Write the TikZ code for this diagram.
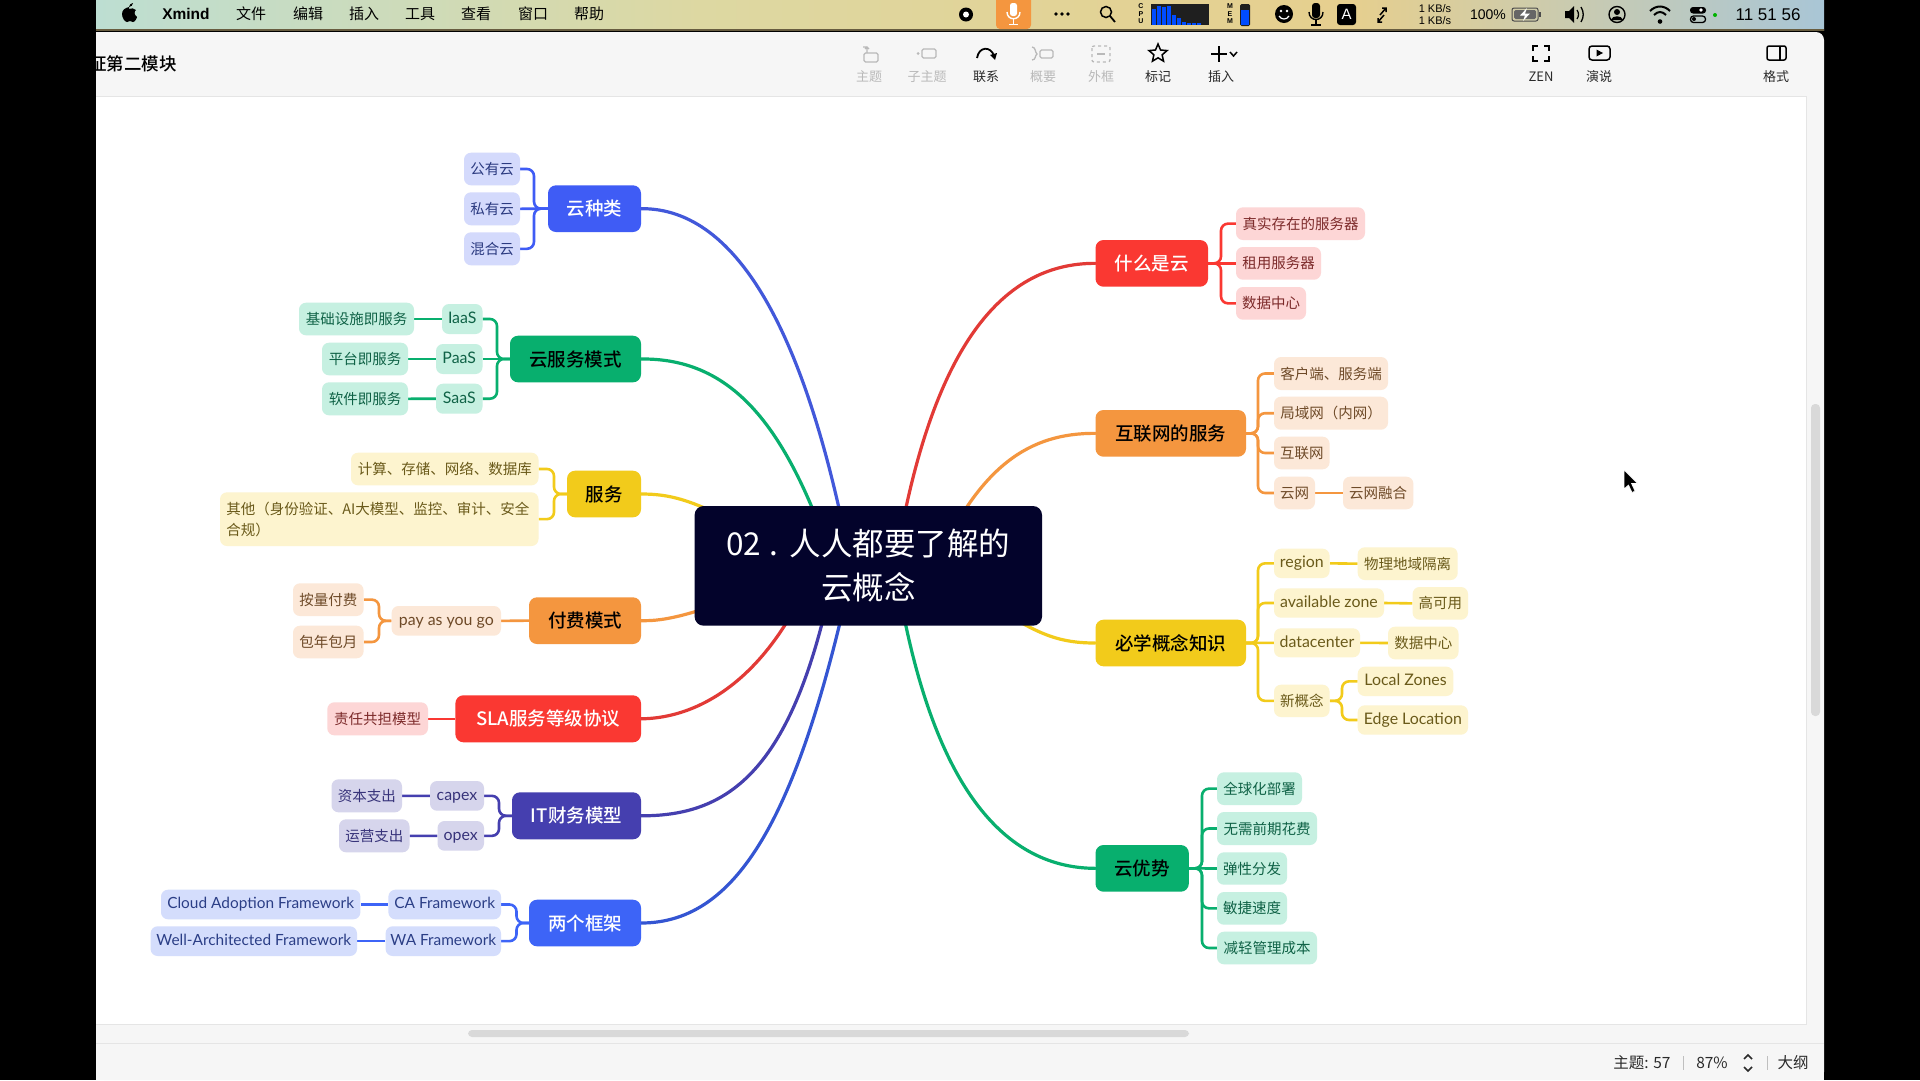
\documentclass[tikz,border=0pt]{standalone}
\usepackage{fontspec}
\setmainfont{Noto Sans CJK SC}
\newfontfamily\lat{Lato}
\newfontfamily\ui{Liberation Sans}
\newfontfamily\cnmed{Noto Sans CJK SC Medium}
\usetikzlibrary{shapes.geometric,calc}
\pgfdeclarelayer{pagebg}\pgfdeclarelayer{conn}
\pgfsetlayers{pagebg,conn,main}
\definecolor{cblue}{HTML}{3F5CF5}\definecolor{lblue}{HTML}{D4DAFC}\definecolor{tblue}{HTML}{2B3A80}
\definecolor{cgreen}{HTML}{08AF6E}\definecolor{lgreen}{HTML}{C6F0E1}\definecolor{tgreen}{HTML}{0F6246}
\definecolor{cyellow}{HTML}{F2CB1B}\definecolor{lyellow}{HTML}{FDF4CF}\definecolor{tyellow}{HTML}{6A5A1A}
\definecolor{corange}{HTML}{F4963F}\definecolor{lorange}{HTML}{FCE8D8}\definecolor{torange}{HTML}{6E4A28}
\definecolor{cred}{HTML}{FA3832}\definecolor{lred}{HTML}{FDD6D6}\definecolor{tred}{HTML}{7C2A2A}
\definecolor{cindigo}{HTML}{453FAF}\definecolor{lindigo}{HTML}{D6D5EC}\definecolor{tindigo}{HTML}{37337A}
\definecolor{cbluetwo}{HTML}{3D64F7}\definecolor{lbluetwo}{HTML}{D4DDFC}\definecolor{tbluetwo}{HTML}{2B3E86}
\definecolor{credline}{HTML}{E23A36}\definecolor{cblueline}{HTML}{4258DA}
\definecolor{rootc}{HTML}{03032B}\definecolor{chrome}{HTML}{F6F6F6}\definecolor{barg}{HTML}{D9D9D9}
\definecolor{icongray}{HTML}{B9B9B9}\definecolor{uitext}{HTML}{2A2A2A}
\definecolor{mbA}{HTML}{BDDED2}\definecolor{mbB}{HTML}{DDD8A2}\definecolor{mbC}{HTML}{E6CF8E}\definecolor{mbD}{HTML}{A9C6D6}
\tikzset{
 x=1pt,y=-1pt,
 box/.style={rounded corners=7pt,inner sep=0pt,align=center},
 lf/.style={box,font=\fontsize{14.5}{20}\selectfont},
 brn/.style={box,rounded corners=8pt},
 brw/.style={brn,text=white,font=\cnmed\fontsize{18.5}{22}\selectfont},
 brk/.style={brn,text=black,font=\cnmed\fontsize{18.5}{22}\selectfont},
 lfblue/.style={lf,fill=lblue,text=tblue},
 lfgreen/.style={lf,fill=lgreen,text=tgreen},
 lfyellow/.style={lf,fill=lyellow,text=tyellow},
 lforange/.style={lf,fill=lorange,text=torange},
 lfred/.style={lf,fill=lred,text=tred},
 lfindigo/.style={lf,fill=lindigo,text=tindigo},
 lfbluetwo/.style={lf,fill=lbluetwo,text=tbluetwo},
 mainline/.style={line width=3.2pt,line cap=round},
 subline/.style={line width=2.6pt,rounded corners=7pt},
 menu/.style={font=\fontsize{15}{18}\selectfont,text=black,inner sep=0pt},
 tool/.style={font=\fontsize{13}{15}\selectfont,text=uitext,inner sep=0pt},
 toolg/.style={font=\fontsize{13}{15}\selectfont,text=icongray,inner sep=0pt},
 iconk/.style={line width=1.5pt,draw=black},
 icong/.style={line width=1.3pt,draw=icongray},
 stat/.style={font=\fontsize{15.5}{18}\selectfont,text=uitext,inner sep=0pt},
}
\newcommand{\bx}[7]{\pgfmathsetmacro\bw{#4-#2}\pgfmathsetmacro\bh{#5-#3}\pgfmathsetmacro\cx{(#2+#4)/2}\pgfmathsetmacro\cy{(#3+#5)/2}\node[#6,minimum width=\bw pt,minimum height=\bh pt] (#1) at (\cx,\cy) {#7};}
\newcommand{\cbL}[4]{\draw[subline,draw=#4] (#1.west) -- (#3,0 |- #1.west) -- (#3,0 |- #2.east) -- (#2.east);}
\newcommand{\cbR}[4]{\draw[subline,draw=#4] (#1.east) -- (#3,0 |- #1.east) -- (#3,0 |- #2.west) -- (#2.west);}
\newcommand{\stL}[3]{\draw[subline,draw=#3] (#1.west) -- (#2.east);}
\newcommand{\stR}[3]{\draw[subline,draw=#3] (#1.east) -- (#2.west);}
\newcommand{\la}[1]{\raisebox{-2.2pt}{\lat\fontsize{15.9}{18}\selectfont\vphantom{Ag}#1}}
\newcommand{\lb}[1]{\raisebox{-2.2pt}{\lat\fontsize{15.4}{18}\selectfont\vphantom{Ag}#1}}
\newcommand{\rb}[1]{\raisebox{-1pt}{#1}}
\newcommand{\rt}[1]{\raisebox{-1.5pt}{#1}}
\begin{document}
\begin{tikzpicture}
\useasboundingbox (0,0) rectangle (1920,1080);
\begin{pgfonlayer}{pagebg}
\fill[black] (0,0) rectangle (1920,1080);
% menu bar
\shade[left color=mbA,right color=mbB] (96,0) rectangle (700,30);
\shade[left color=mbB,right color=mbC] (700,0) rectangle (1350,30);
\shade[left color=mbC,right color=mbD] (1350,0) rectangle (1824,30);
\fill[black!55!mbC] (96,29) rectangle (1824,30.5);
% window
\fill[chrome,rounded corners=8pt] (96,32) rectangle (1824,1080);
\fill[chrome] (96,32) rectangle (300,60);
\fill[chrome] (96,60) rectangle (1824,1080);
\fill[white] (96,96) rectangle (1806,1024);
\draw[black!10,line width=1pt] (96,96) -- (1806,96) -- (1806,1024) -- (96,1024);
\draw[black!10,line width=1pt] (96,1043) -- (1824,1043);
\fill[barg,rounded corners=4pt] (1811,404) rectangle (1820,716);
\fill[barg,rounded corners=4pt] (468,1030) rectangle (1189,1037);
% menu text
\fill[black] (129,7) .. controls (125,8) and (122,10) .. (122,14) .. controls (122,18) and (125,22) .. (127,22) .. controls (128,22) and (129,21) .. (130,21) .. controls (131,21) and (132,22) .. (133,22) .. controls (135,22) and (137,18) .. (137,17) .. controls (134,15) and (134,11) .. (136,10) .. controls (134,8) and (131,8) .. (129,9) -- cycle;
\fill[black] (129,7) .. controls (129,5) and (131,3) .. (133,3) .. controls (133,5) and (131,7) .. (129,7) -- cycle;
\node[menu,font=\ui\bfseries\fontsize{15.5}{18}\selectfont] (mxmind) at (186,14) {Xmind};
\node[menu] (m1) at (251,14) {文件};
\node[menu] (m2) at (308,14) {编辑};
\node[menu] (m3) at (364,14) {插入};
\node[menu] (m4) at (420,14) {工具};
\node[menu] (m5) at (476,14) {查看};
\node[menu] (m6) at (533,14) {窗口};
\node[menu] (m7) at (589,14) {帮助};
% status icons
\fill[black] (966,14.5) circle (7pt);
\fill[white] (966,14.5) circle (3pt);
\fill[corange,rounded corners=4pt] (996,-4) rectangle (1031,29);
\fill[white,rounded corners=2.5pt] (1010,3) rectangle (1017,16);
\draw[white,line width=1.4pt] (1007,12) .. controls (1007,21) and (1020,21) .. (1020,12);
\draw[white,line width=1.4pt] (1013.5,19) -- (1013.5,24) (1009,24.5) -- (1018,24.5);
\foreach \q in {1056,1062,1068} \fill[black] (\q,14) circle (1.8pt);
\draw[black,line width=1.5pt] (1106,12) circle (5.5pt);
\draw[black,line width=1.8pt] (1110,16) -- (1115,22);
\node[font=\ui\bfseries\fontsize{7}{7.5}\selectfont,align=center,inner sep=0pt,text=black] (cpu) at (1141,14) {C\\P\\U};
\fill[black!88] (1151,4) rectangle (1209,25);
\foreach \a/\h in {1152/16,1157/19,1162/18,1167/19,1172/10,1177/7,1182/3,1187/2,1192/2,1197/2} \fill[blue!70!cyan] (\a,25) rectangle +(4,-\h);
\node[font=\ui\bfseries\fontsize{7}{7.5}\selectfont,align=center,inner sep=0pt,text=black] (mem) at (1230,14) {M\\E\\M};
\fill[black!88,rounded corners=1.5pt] (1240,4) rectangle (1250,26);
\fill[blue!70!cyan] (1241,10) rectangle (1249,25);
\fill[black] (1284,14) circle (9pt);
\fill[white] (1281,11) circle (1.4pt) (1287,11) circle (1.4pt);
\draw[white,line width=1.2pt] (1279,16) .. controls (1281,20) and (1287,20) .. (1289,16);
\fill[black,rounded corners=3pt] (1312,3) rectangle (1320,18);
\draw[black,line width=1.4pt] (1309,12) .. controls (1309,22) and (1323,22) .. (1323,12);
\draw[black,line width=1.4pt] (1316,20) -- (1316,25) (1311,25) -- (1321,25);
\fill[black,rounded corners=3pt] (1337,4) rectangle (1356,25);
\node[font=\ui\fontsize{15}{16}\selectfont,text=white,inner sep=0pt] (akey) at (1346.5,14.5) {A};
\draw[black,line width=1.5pt] (1380,15) -- (1386,8) (1382,8) -- (1386,8) -- (1386,12);
\draw[black,line width=1.5pt] (1378,22) -- (1384,15) (1378,18) -- (1378,22) -- (1382,22);
\node[font=\ui\fontsize{11}{11.5}\selectfont,align=right,inner sep=0pt,text=black] (kbs) at (1435,14.5) {1 KB/s\\1 KB/s};
\node[font=\ui\fontsize{14}{16}\selectfont,inner sep=0pt,text=black] (batp) at (1488,15) {100\%};
\draw[black!70,line width=1pt,rounded corners=2pt] (1512,8) rectangle (1538,21);
\fill[black!60,rounded corners=1.5pt] (1514,10) rectangle (1536,19);
\fill[black!70] (1539,12) rectangle (1541,17);
\fill[white] (1527,8) -- (1520,15.5) -- (1525,15.5) -- (1523,21) -- (1530,13.5) -- (1525,13.5) -- cycle;
\fill[black] (1565,11) -- (1569,11) -- (1574,6) -- (1574,23) -- (1569,18) -- (1565,18) -- cycle;
\draw[black,line width=1.3pt] (1577,10) .. controls (1579,13) and (1579,16) .. (1577,19);
\draw[black,line width=1.3pt] (1581,7) .. controls (1584,12) and (1584,17) .. (1581,22);
\draw[black,line width=1.4pt] (1617,14.5) circle (8pt);
\fill[black] (1617,12) circle (3pt);
\fill[black] (1611,20) .. controls (1612,15) and (1622,15) .. (1623,20) -- cycle;
\draw[black,line width=2pt] (1650,11) .. controls (1656,5) and (1664,5) .. (1670,11);
\draw[black,line width=2pt] (1654,15) .. controls (1658,11) and (1662,11) .. (1666,15);
\fill[black] (1660,21.5) circle (2.3pt);
\fill[black,rounded corners=3pt] (1690,7) rectangle (1706,13.5);
\draw[black,line width=1.3pt,rounded corners=3pt] (1690.5,16) rectangle (1705.5,22.5);
\fill[white] (1701,10) circle (1.8pt);
\fill[black] (1694,19) circle (2pt);
\fill[green!70!black] (1715,15) circle (2pt);
\node[font=\ui\fontsize{17}{18}\selectfont,inner sep=0pt,text=black] (clock) at (1768,14.5) {11 51 56};
% title
\begin{scope}
\clip (96,40) rectangle (400,90);
\node[font=\cnmed\fontsize{17.5}{20}\selectfont,text=black,inner sep=0pt] (ttl) at (133,64) {证第二模块};
\end{scope}
% toolbar labels
\node[toolg] (t1) at (869,77) {主题};
\node[toolg] (t2) at (927,77) {子主题};
\node[tool] (t3) at (986,77) {联系};
\node[toolg] (t4) at (1043,77) {概要};
\node[toolg] (t5) at (1101,77) {外框};
\node[tool] (t6) at (1158,77) {标记};
\node[tool] (t7) at (1221,77) {插入};
\node[tool] (t8) at (1541,77) {ZEN};
\node[tool] (t9) at (1599,77) {演说};
\node[tool] (t10) at (1776,77) {格式};
% toolbar icons
\draw[icong,rounded corners=1.5pt] (864,53) rectangle (878,62);
\draw[icong] (867,47) -- (867,53) (865,49) -- (867,47) -- (869,49) (867,47) -- (863,47);
\draw[icong,rounded corners=1.5pt] (922,49) rectangle (936,58);
\fill[icongray] (918,53.5) circle (1.5pt);
\draw[iconk,line width=1.8pt] (977,58) .. controls (979,46) and (991,46) .. (994,56);
\fill[black] (990,55) -- (997,53) -- (995,60) -- cycle;
\draw[icong] (1032,47) .. controls (1036,47) and (1035,53) .. (1037,54) .. controls (1035,55) and (1036,60) .. (1032,60);
\draw[icong,rounded corners=1.5pt] (1040,50) rectangle (1053,58);
\draw[icong,dashed,rounded corners=2pt] (1092,46) rectangle (1110,62);
\draw[icong] (1097,54) -- (1105,54);
\node[star,star points=5,star point ratio=2.2,draw=black,line width=1.5pt,inner sep=0pt,minimum size=19pt] (starico) at (1158,53.5) {};
\draw[iconk,line width=1.7pt] (1211,54) -- (1227,54) (1219,46) -- (1219,62);
\draw[iconk] (1230,52) -- (1233.5,56) -- (1237,52);
\draw[iconk] (1533,51) -- (1533,46) -- (1538,46) (1544,46) -- (1549,46) -- (1549,51) (1549,56) -- (1549,61) -- (1544,61) (1538,61) -- (1533,61) -- (1533,56);
\draw[iconk,rounded corners=3pt] (1589,46) rectangle (1610,60);
\fill[black] (1596.5,49.5) -- (1603,53) -- (1596.5,56.5) -- cycle;
\draw[iconk,rounded corners=2pt] (1767,46) rectangle (1786,60);
\draw[iconk] (1780,46) -- (1780,60);
% status bar
\node[stat] (s1) at (1642,1063) {主题: 57};
\draw[black!25,line width=1pt] (1683,1056) -- (1683,1070);
\node[stat] (s2) at (1712,1063) {87\%};
\draw[uitext,line width=1.7pt] (1744,1059) -- (1748,1055) -- (1752,1059) (1744,1067) -- (1748,1071) -- (1752,1067);
\draw[black!25,line width=1pt] (1767,1056) -- (1767,1070);
\node[stat] (s3) at (1793,1063) {大纲};
% pointer
\fill[black,draw=white,line width=.6pt] (1624,470) -- (1624,489) -- (1628.5,485) -- (1632,492.5) -- (1635,491) -- (1631.5,483.5) -- (1637.5,483.5) -- cycle;
\end{pgfonlayer}

% branches (left)
\bx{yun}{548}{185.3}{641}{232}{brw,fill=cblue}{\rb{云种类}}
\bx{ymoshi}{510}{335.7}{641}{382.3}{brk,fill=cgreen}{\rb{云服务模式}}
\bx{fuwu}{567}{470.7}{641}{517.3}{brk,fill=cyellow}{\rb{服务}}
\bx{fufei}{529}{597.3}{641}{644}{brk,fill=corange}{\rb{付费模式}}
\bx{sla}{455.4}{695.3}{641}{742.3}{brw,fill=cred}{\rb{SLA服务等级协议}}
\bx{itm}{512}{792.3}{641}{839.3}{brw,fill=cindigo}{\rb{IT财务模型}}
\bx{kj}{529}{899.7}{641}{946.3}{brw,fill=cbluetwo}{\rb{两个框架}}
% branches (right)
\bx{shenme}{1095.5}{240}{1208}{286.7}{brw,fill=cred}{\rb{什么是云}}
\bx{hulian}{1095.5}{410}{1246}{456.7}{brk,fill=corange}{\rb{互联网的服务}}
\bx{bixue}{1095.5}{619.7}{1246}{666.3}{brk,fill=cyellow}{\rb{必学概念知识}}
\bx{youshi}{1095.5}{845}{1188.8}{891.7}{brk,fill=cgreen}{\rb{云优势}}
% root
\bx{root}{694.6}{506}{1042}{625.7}{box,rounded corners=9pt,fill=rootc,text=white,font=\fontsize{31.5}{44}\selectfont}{\rt{02\hspace{1.5pt} .\hspace{1.5pt} 人人都要了解的}\\\rt{云概念}}

% leaves left
\bx{a1}{464}{152.7}{520}{185.3}{lfblue}{公有云}
\bx{a2}{464}{192.3}{520}{225.3}{lfblue}{私有云}
\bx{a3}{464}{232.3}{520}{265.3}{lfblue}{混合云}
\bx{b1}{442}{304}{482.5}{334}{lfgreen}{\la{IaaS}}
\bx{b2}{436}{344}{482.5}{374}{lfgreen}{\la{PaaS}}
\bx{b3}{436}{383.7}{482.5}{413.7}{lfgreen}{\la{SaaS}}
\bx{b1a}{299}{302.7}{414}{335.3}{lfgreen}{基础设施即服务}
\bx{b2a}{322}{342.7}{408}{375.3}{lfgreen}{平台即服务}
\bx{b3a}{322}{382.3}{408}{415.3}{lfgreen}{软件即服务}
\bx{c1}{351}{452.7}{538.5}{485.3}{lfyellow}{计算、存储、网络、数据库}
\bx{c2}{220}{492.3}{538.5}{546}{lfyellow}{\parbox{306pt}{\raggedright\fontsize{14.5}{21}\selectfont 其他（身份验证、AI大模型、监控、审计、安全\\合规）}}
\bx{d1}{391.6}{606}{501}{635.7}{lforange}{\la{pay as you go}}
\bx{d1a}{293}{583.3}{363.6}{616}{lforange}{按量付费}
\bx{d1b}{293}{625.7}{363.6}{658.3}{lforange}{包年包月}
\bx{e1}{327.3}{702.3}{428}{735.3}{lfred}{责任共担模型}
\bx{f1}{430}{781}{484}{810.7}{lfindigo}{\la{capex}}
\bx{f2}{437.5}{821}{484}{850.7}{lfindigo}{\la{opex}}
\bx{f1a}{331.5}{779.3}{402}{812.3}{lfindigo}{资本支出}
\bx{f2a}{339}{819.3}{409.5}{852.3}{lfindigo}{运营支出}
\bx{g1}{388.4}{889.7}{501}{919.3}{lfbluetwo}{\lb{CA Framework}}
\bx{g2}{385.6}{926.3}{501}{956}{lfbluetwo}{\lb{WA Framework}}
\bx{g1a}{161}{889.7}{360.4}{919.3}{lfbluetwo}{\lb{Cloud Adoption Framework}}
\bx{g2a}{150.6}{926.3}{357}{956}{lfbluetwo}{\lb{Well-Architected Framework}}
% leaves right
\bx{h1}{1236}{207.3}{1365}{240}{lfred}{真实存在的服务器}
\bx{h2}{1236}{247}{1321}{279.7}{lfred}{租用服务器}
\bx{h3}{1236}{287}{1306}{319.7}{lfred}{数据中心}
\bx{i1}{1274}{357}{1388}{390}{lforange}{客户端、服务端}
\bx{i2}{1274}{396.7}{1388}{429.7}{lforange}{局域网（内网）}
\bx{i3}{1274}{436.7}{1329.6}{469.3}{lforange}{互联网}
\bx{i4}{1274}{476.7}{1315}{509.3}{lforange}{云网}
\bx{i4a}{1343}{476.7}{1413.4}{509.3}{lforange}{云网融合}
\bx{j1}{1274}{548.7}{1329.6}{578}{lfyellow}{\la{region}}
\bx{j1a}{1357.7}{547.3}{1457.7}{580}{lfyellow}{物理地域隔离}
\bx{j2}{1274}{588.3}{1384}{617.7}{lfyellow}{\la{available zone}}
\bx{j2a}{1412.6}{587}{1468}{619.7}{lfyellow}{高可用}
\bx{j3}{1274}{628.3}{1360}{657.3}{lfyellow}{\la{datacenter}}
\bx{j3a}{1388}{626.7}{1458.5}{659.3}{lfyellow}{数据中心}
\bx{j4}{1274}{684.7}{1329.6}{717}{lfyellow}{新概念}
\bx{j4a}{1357.7}{666.7}{1453.4}{696}{lfyellow}{\la{Local Zones}}
\bx{j4b}{1357.7}{705.3}{1468}{734.7}{lfyellow}{\la{Edge Location}}
\bx{k1}{1217}{772.3}{1302}{805}{lfgreen}{全球化部署}
\bx{k2}{1217}{812}{1317}{845}{lfgreen}{无需前期花费}
\bx{k3}{1217}{852.3}{1287}{884.7}{lfgreen}{弹性分发}
\bx{k4}{1217}{892}{1287}{924.7}{lfgreen}{敏捷速度}
\bx{k5}{1217}{931.7}{1317}{964.3}{lfgreen}{减轻管理成本}

\begin{pgfonlayer}{conn}
\coordinate (endA) at (851,566);
\coordinate (endB) at (834,566);
\coordinate (endC) at (730,520);
\coordinate (endD) at (730,600);
\coordinate (endE) at (815,566);
\coordinate (endF) at (835,566);
\coordinate (endG) at (853,566);
\coordinate (endH) at (895,566);
\coordinate (endI) at (935,566);
\coordinate (endJ) at (1000,610);
\draw[mainline,draw=cblueline] (yun.east) .. controls (740,208) and (808,340) .. (endA);
\draw[mainline,draw=cgreen] (ymoshi.east) .. controls (735,358) and (788,430) .. (endB);
\draw[mainline,draw=cyellow] (fuwu.east) .. controls (670,494) and (690,500) .. (endC);
\draw[mainline,draw=corange] (fufei.east) .. controls (660,621) and (680,618) .. (endD);
\draw[mainline,draw=credline] (sla.east) .. controls (705,718) and (772,672) .. (endE);
\draw[mainline,draw=cindigo] (itm.east) .. controls (730,816) and (795,770) .. (endF);
\draw[mainline,draw=cbluetwo!85!black] (kj.east) .. controls (740,923) and (800,810) .. (endG);
\draw[mainline,draw=credline] (shenme.west) .. controls (1000,263) and (930,350) .. (endH);
\draw[mainline,draw=corange] (hulian.west) .. controls (1030,433) and (980,465) .. (endI);
\draw[mainline,draw=cyellow] (bixue.west) .. controls (1060,643) and (1040,635) .. (endJ);
\draw[mainline,draw=cgreen] (youshi.west) .. controls (1000,868) and (928,780) .. (endH);
% left brackets
\cbL{yun}{a1}{534}{cblue}\stL{yun}{a2}{cblue}\cbL{yun}{a3}{534}{cblue}
\cbL{ymoshi}{b1}{497}{cgreen}\stL{ymoshi}{b2}{cgreen}\cbL{ymoshi}{b3}{497}{cgreen}
\stL{b1}{b1a}{cgreen}\stL{b2}{b2a}{cgreen}\stL{b3}{b3a}{cgreen}
\cbL{fuwu}{c1}{554}{cyellow}\cbL{fuwu}{c2}{554}{cyellow}
\stL{fufei}{d1}{corange}
\cbL{d1}{d1a}{379}{corange}\cbL{d1}{d1b}{379}{corange}
\stL{sla}{e1}{cred}
\cbL{itm}{f1}{499}{cindigo}\cbL{itm}{f2}{499}{cindigo}
\stL{f1}{f1a}{cindigo}\stL{f2}{f2a}{cindigo}
\cbL{kj}{g1}{516.5}{cbluetwo}\cbL{kj}{g2}{516.5}{cbluetwo}
\stL{g1}{g1a}{cbluetwo}\stL{g2}{g2a}{cbluetwo}
% right brackets
\cbR{shenme}{h1}{1221}{cred}\stR{shenme}{h2}{cred}\cbR{shenme}{h3}{1221}{cred}
\cbR{hulian}{i1}{1258}{corange}\cbR{hulian}{i2}{1258}{corange}\cbR{hulian}{i3}{1258}{corange}\cbR{hulian}{i4}{1258}{corange}
\stR{i4}{i4a}{corange}
\cbR{bixue}{j1}{1258}{cyellow}\cbR{bixue}{j2}{1258}{cyellow}\stR{bixue}{j3}{cyellow}\cbR{bixue}{j4}{1258}{cyellow}
\stR{j1}{j1a}{cyellow}\stR{j2}{j2a}{cyellow}\stR{j3}{j3a}{cyellow}
\cbR{j4}{j4a}{1342}{cyellow}\cbR{j4}{j4b}{1342}{cyellow}
\cbR{youshi}{k1}{1202}{cgreen}\cbR{youshi}{k2}{1202}{cgreen}\stR{youshi}{k3}{cgreen}\cbR{youshi}{k4}{1202}{cgreen}\cbR{youshi}{k5}{1202}{cgreen}
\end{pgfonlayer}
\end{tikzpicture}
\end{document}
